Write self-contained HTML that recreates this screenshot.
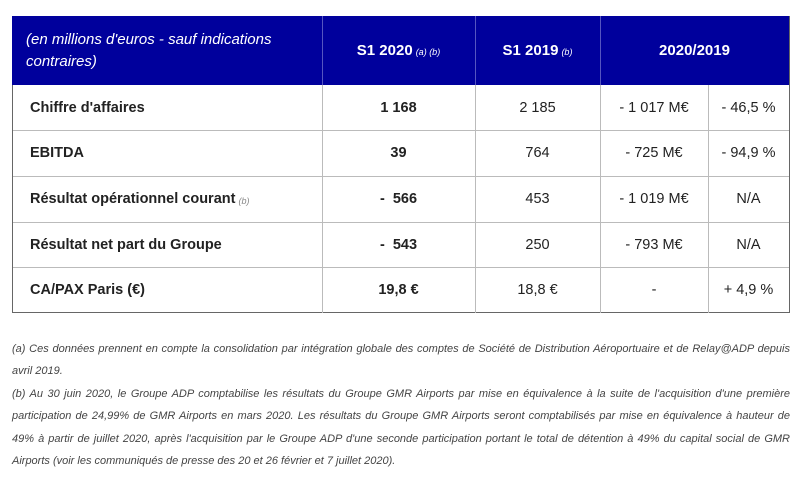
<!DOCTYPE html>
<html><head><meta charset="utf-8"><style>
body{margin:0;width:800px;height:485px;background:#fff;font-family:"Liberation Sans",sans-serif;position:relative;overflow:hidden}
.c{position:absolute;box-sizing:border-box;display:flex;align-items:center;justify-content:center;font-size:14.5px;color:#222}
.hd{background:#00009c;color:#fff;font-weight:bold;font-size:15px}
.lb{justify-content:flex-start;padding-left:18px;font-weight:bold;color:#222}
.b{font-weight:bold}
.sm{font-style:italic;font-weight:normal;font-size:9px;margin-left:3px;margin-top:3px}
.hl{position:absolute;background:#bbb;height:1px;left:12px;width:777px}
.vl{position:absolute;background:#bbb;width:1px}
.fn{position:absolute;left:12px;width:778px;font-size:11px;font-style:italic;color:#444;line-height:22.3px;text-align:justify}
</style></head><body>
<div>
<div class="c hd" style="left:12px;top:16px;width:310px;height:69px;justify-content:flex-start;padding-left:14px;font-weight:normal;font-style:italic;font-size:15px;line-height:22px">(en millions d'euros - sauf indications contraires)</div>
<div class="c hd" style="left:322px;top:16px;width:153px;height:69px">S1 2020<span class="sm">(a) (b)</span></div>
<div class="c hd" style="left:475px;top:16px;width:125px;height:69px">S1 2019<span class="sm">(b)</span></div>
<div class="c hd" style="left:600px;top:16px;width:189px;height:69px">2020/2019</div>
<div class="vl" style="left:322px;top:16px;height:69px;background:#5555c0"></div>
<div class="vl" style="left:475px;top:16px;height:69px;background:#5555c0"></div>
<div class="vl" style="left:600px;top:16px;height:69px;background:#5555c0"></div>

<div class="c lb" style="left:12px;top:85px;width:310px;height:45px">Chiffre d'affaires</div>
<div class="c b" style="left:322px;top:85px;width:153px;height:45px">1 168</div>
<div class="c" style="left:475px;top:85px;width:125px;height:45px">2 185</div>
<div class="c" style="left:600px;top:85px;width:108px;height:45px">- 1 017 M€</div>
<div class="c" style="left:708px;top:85px;width:81px;height:45px">- 46,5 %</div>

<div class="c lb" style="left:12px;top:130px;width:310px;height:46px">EBITDA</div>
<div class="c b" style="left:322px;top:130px;width:153px;height:46px">39</div>
<div class="c" style="left:475px;top:130px;width:125px;height:46px">764</div>
<div class="c" style="left:600px;top:130px;width:108px;height:46px">- 725 M€</div>
<div class="c" style="left:708px;top:130px;width:81px;height:46px">- 94,9 %</div>

<div class="c lb" style="left:12px;top:176px;width:310px;height:46px">Résultat opérationnel courant<span class="sm" style="color:#888">(b)</span></div>
<div class="c b" style="left:322px;top:176px;width:153px;height:46px;white-space:pre">-  566</div>
<div class="c" style="left:475px;top:176px;width:125px;height:46px">453</div>
<div class="c" style="left:600px;top:176px;width:108px;height:46px">- 1 019 M€</div>
<div class="c" style="left:708px;top:176px;width:81px;height:46px">N/A</div>

<div class="c lb" style="left:12px;top:222px;width:310px;height:45px">Résultat net part du Groupe</div>
<div class="c b" style="left:322px;top:222px;width:153px;height:45px;white-space:pre">-  543</div>
<div class="c" style="left:475px;top:222px;width:125px;height:45px">250</div>
<div class="c" style="left:600px;top:222px;width:108px;height:45px">- 793 M€</div>
<div class="c" style="left:708px;top:222px;width:81px;height:45px">N/A</div>

<div class="c lb" style="left:12px;top:267px;width:310px;height:45px">CA/PAX Paris (€)</div>
<div class="c b" style="left:322px;top:267px;width:153px;height:45px">19,8 €</div>
<div class="c" style="left:475px;top:267px;width:125px;height:45px">18,8 €</div>
<div class="c" style="left:600px;top:267px;width:108px;height:45px">-</div>
<div class="c" style="left:708px;top:267px;width:81px;height:45px">+ 4,9 %</div>

<div class="hl" style="top:130px"></div>
<div class="hl" style="top:176px"></div>
<div class="hl" style="top:222px"></div>
<div class="hl" style="top:267px"></div>
<div class="hl" style="top:312px;background:#666"></div>
<div class="vl" style="left:12px;top:85px;height:228px;background:#666"></div>
<div class="vl" style="left:789px;top:16px;height:297px;background:#666"></div>
<div class="vl" style="left:322px;top:85px;height:228px"></div>
<div class="vl" style="left:475px;top:85px;height:228px"></div>
<div class="vl" style="left:600px;top:85px;height:228px"></div>
<div class="vl" style="left:708px;top:85px;height:228px"></div>
</div>

<div class="fn" style="top:338px">(a) Ces données prennent en compte la consolidation par intégration globale des comptes de Société de Distribution Aéroportuaire et de Relay@ADP depuis avril 2019.</div>
<div class="fn" style="top:383px">(b) Au 30 juin 2020, le Groupe ADP comptabilise les résultats du Groupe GMR Airports par mise en équivalence à la suite de l'acquisition d'une première participation de 24,99% de GMR Airports en mars 2020. Les résultats du Groupe GMR Airports seront comptabilisés par mise en équivalence à hauteur de 49% à partir de juillet 2020, après l'acquisition par le Groupe ADP d'une seconde participation portant le total de détention à 49% du capital social de GMR Airports (voir les communiqués de presse des 20 et 26 février et 7 juillet 2020).</div>
</body></html>
